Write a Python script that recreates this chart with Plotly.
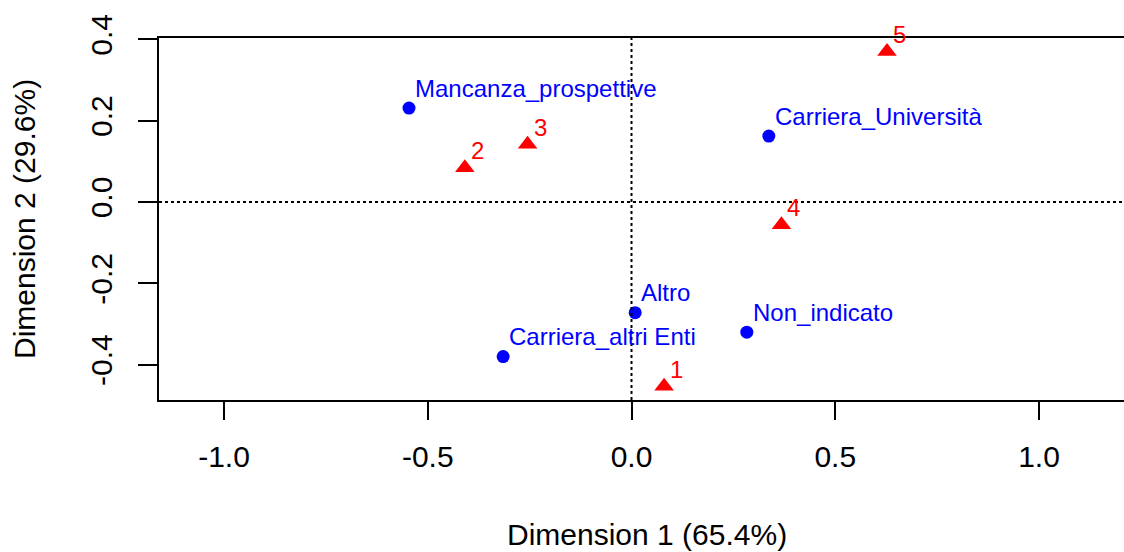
import plotly.graph_objects as go

# Column categories (blue circles)
col_labels = ["Mancanza_prospettive", "Carriera_Università", "Altro", "Non_indicato", "Carriera_altri Enti"]
col_dim1 = [-0.546, 0.337, 0.009, 0.283, -0.315]
col_dim2 = [0.231, 0.162, -0.272, -0.320, -0.380]

# Row categories (red triangles)
row_labels = ["1", "2", "3", "4", "5"]
row_dim1 = [0.080, -0.409, -0.255, 0.368, 0.627]
row_dim2 = [-0.453, 0.084, 0.142, -0.056, 0.370]

x_ticks = [-1.0, -0.5, 0.0, 0.5, 1.0]
y_ticks = [-0.4, -0.2, 0.0, 0.2, 0.4]
x_title = "Dimension 1 (65.4%)"
y_title = "Dimension 2 (29.6%)"

FONT = "Liberation Sans, Arial, sans-serif"
BLUE = "#0000FF"
RED = "#FF0000"

fig = go.Figure()
fig.add_trace(go.Scatter(x=row_dim1, y=row_dim2, mode="markers",
                         marker=dict(symbol="triangle-up", size=17, color=RED),
                         showlegend=False, hoverinfo="skip"))
fig.add_trace(go.Scatter(x=col_dim1, y=col_dim2, mode="markers",
                         marker=dict(symbol="circle", size=13, color=BLUE),
                         showlegend=False, hoverinfo="skip"))

annotations = []
for lx, ly, lt in zip(col_dim1, col_dim2, col_labels):
    annotations.append(dict(x=lx, y=ly, xref="x", yref="y", text=lt, showarrow=False,
                            xanchor="left", yanchor="middle", xshift=5, yshift=20,
                            borderpad=0, font=dict(family=FONT, size=24, color=BLUE)))
for lx, ly, lt in zip(row_dim1, row_dim2, row_labels):
    annotations.append(dict(x=lx, y=ly, xref="x", yref="y", text=lt, showarrow=False,
                            xanchor="left", yanchor="middle", xshift=5, yshift=17,
                            borderpad=0, font=dict(family=FONT, size=24, color=RED)))
# axis titles
annotations.append(dict(x=0.5057, y=0, xref="paper", yref="paper", text=x_title, showarrow=False,
                        xanchor="center", yanchor="middle", yshift=-134,
                        borderpad=0, font=dict(family=FONT, size=30, color="#000000")))
annotations.append(dict(x=0, y=0.5, xref="paper", yref="paper", text=y_title, showarrow=False,
                        xanchor="center", yanchor="middle", xshift=-135, textangle=-90,
                        borderpad=0, font=dict(family=FONT, size=30, color="#000000")))

shapes = [
    dict(type="line", xref="x", yref="paper", x0=0, x1=0, y0=0, y1=1,
         line=dict(color="black", width=2, dash="dot")),
    dict(type="line", xref="paper", yref="y", x0=0, x1=1, y0=0, y1=0,
         line=dict(color="black", width=2, dash="dot")),
]

fig.update_layout(
    width=1124, height=552,
    margin=dict(l=159, r=0, t=38, b=152),
    paper_bgcolor="white", plot_bgcolor="white",
    font=dict(family=FONT, color="black"),
    annotations=annotations, shapes=shapes,
)
fig.update_xaxes(range=[-1.1595, 1.2086], tickvals=x_ticks, ticktext=["%.1f" % v for v in x_ticks],
                 showgrid=False, zeroline=False, showline=True, linecolor="black", linewidth=2,
                 mirror=True, ticks="outside", ticklen=18, tickwidth=2, tickcolor="black",
                 tickfont=dict(family=FONT, size=30, color="black"), ticklabelstandoff=11)
fig.update_yaxes(range=[-0.4868, 0.4032], tickvals=y_ticks, ticktext=["%.1f" % v for v in y_ticks],
                 showgrid=False, zeroline=False, showline=True, linecolor="black", linewidth=2,
                 mirror=False, ticks="outside", ticklen=19, tickwidth=2, tickcolor="black",
                 tickangle=-90, tickfont=dict(family=FONT, size=30, color="black"),
                 ticklabelstandoff=14)

fig.write_html("out.html", config=dict(displayModeBar=False),
               post_script="document.body.style.margin='0';document.body.style.overflow='hidden';")
